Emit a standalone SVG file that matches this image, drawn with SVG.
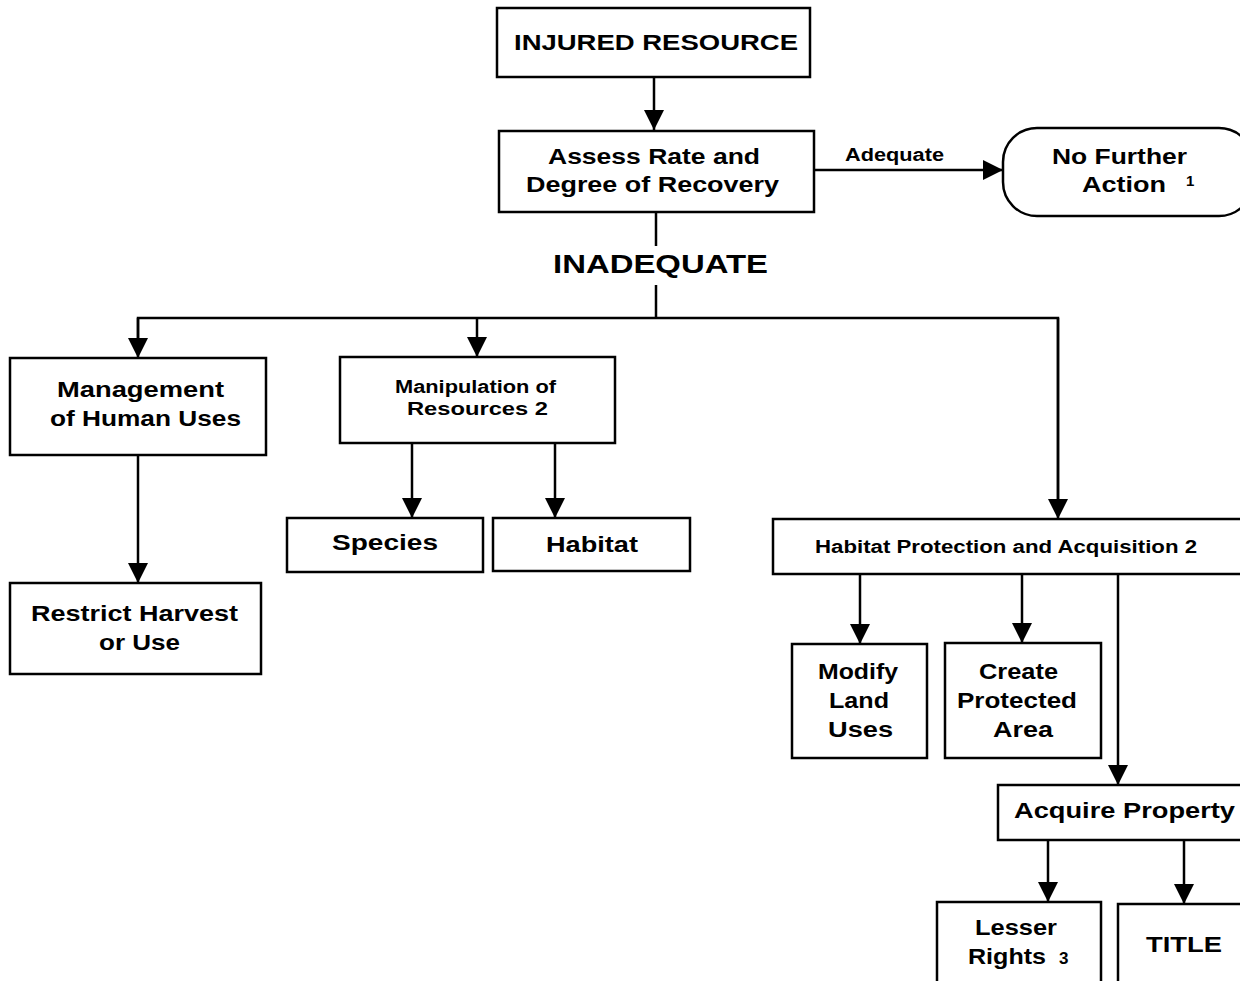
<svg xmlns="http://www.w3.org/2000/svg" width="1240" height="981" viewBox="0 0 1240 981">
<style>
.box{fill:#fff;stroke:#000;stroke-width:2.5}
.ln{fill:none;stroke:#000;stroke-width:2.5}
text{font-family:"Liberation Sans",Arial,sans-serif;font-weight:bold;fill:#000}
.t22{font-size:22px}
.t18{font-size:18px}
</style>
<defs>
<marker id="ah" markerUnits="userSpaceOnUse" markerWidth="22" markerHeight="20" refX="20" refY="10" orient="auto" viewBox="0 0 22 20">
<path d="M0,0 L20,10 L0,20 Z" fill="#000"/>
</marker>
</defs>
<rect width="1240" height="981" fill="#fff"/>
<g id="connectors">
<line class="ln" x1="654" y1="77" x2="654" y2="130" marker-end="url(#ah)"/>
<line class="ln" x1="814" y1="170" x2="1003" y2="170" marker-end="url(#ah)"/>
<line class="ln" x1="656" y1="212" x2="656" y2="246"/>
<line class="ln" x1="656" y1="285" x2="656" y2="318"/>
<polyline class="ln" points="138,340 138,318 1058,318 1058,500"/>
<line class="ln" x1="138" y1="318" x2="138" y2="358" marker-end="url(#ah)"/>
<line class="ln" x1="477" y1="318" x2="477" y2="357" marker-end="url(#ah)"/>
<line class="ln" x1="1058" y1="318" x2="1058" y2="519" marker-end="url(#ah)"/>
<line class="ln" x1="138" y1="455" x2="138" y2="583" marker-end="url(#ah)"/>
<line class="ln" x1="412" y1="443" x2="412" y2="518" marker-end="url(#ah)"/>
<line class="ln" x1="555" y1="443" x2="555" y2="518" marker-end="url(#ah)"/>
<line class="ln" x1="860" y1="574" x2="860" y2="644" marker-end="url(#ah)"/>
<line class="ln" x1="1022" y1="574" x2="1022" y2="643" marker-end="url(#ah)"/>
<line class="ln" x1="1118" y1="574" x2="1118" y2="785" marker-end="url(#ah)"/>
<line class="ln" x1="1048" y1="840" x2="1048" y2="902" marker-end="url(#ah)"/>
<line class="ln" x1="1184" y1="840" x2="1184" y2="904" marker-end="url(#ah)"/>
<text class="t18" x="845" y="161" textLength="99" lengthAdjust="spacingAndGlyphs">Adequate</text>
<text x="553" y="273" style="font-size:26px" textLength="215" lengthAdjust="spacingAndGlyphs">INADEQUATE</text>
</g>
<g id="injured">
<rect class="box" x="497" y="8" width="313" height="69"/>
<text class="t22" x="514" y="50" textLength="284" lengthAdjust="spacingAndGlyphs">INJURED  RESOURCE</text>
</g>
<g id="assess">
<rect class="box" x="499" y="131" width="315" height="81"/>
<text class="t22" x="548" y="164" textLength="212" lengthAdjust="spacingAndGlyphs">Assess Rate and</text>
<text class="t22" x="526" y="192" textLength="253" lengthAdjust="spacingAndGlyphs">Degree of Recovery</text>
</g>
<g id="nofurther">
<rect class="box" x="1003" y="128" width="250" height="88" rx="34" ry="34"/>
<text class="t22" x="1052" y="164" textLength="135" lengthAdjust="spacingAndGlyphs">No Further</text>
<text class="t22" x="1082" y="192" textLength="84" lengthAdjust="spacingAndGlyphs">Action</text>
<text x="1186" y="186" style="font-size:15px">1</text>
</g>
<g id="management">
<rect class="box" x="10" y="358" width="256" height="97"/>
<text class="t22" x="57" y="397" textLength="167" lengthAdjust="spacingAndGlyphs">Management</text>
<text class="t22" x="50" y="426" textLength="191" lengthAdjust="spacingAndGlyphs">of Human Uses</text>
</g>
<g id="manipulation">
<rect class="box" x="340" y="357" width="275" height="86"/>
<text class="t18" x="395" y="393" textLength="161" lengthAdjust="spacingAndGlyphs">Manipulation of</text>
<text class="t18" x="407" y="415" textLength="141" lengthAdjust="spacingAndGlyphs">Resources  2</text>
</g>
<g id="species">
<rect class="box" x="287" y="518" width="196" height="54"/>
<text class="t22" x="332" y="550" textLength="106" lengthAdjust="spacingAndGlyphs">Species</text>
</g>
<g id="habitat">
<rect class="box" x="493" y="518" width="197" height="53"/>
<text class="t22" x="546" y="552" textLength="92" lengthAdjust="spacingAndGlyphs">Habitat</text>
</g>
<g id="restrict">
<rect class="box" x="10" y="583" width="251" height="91"/>
<text class="t22" x="31" y="621" textLength="207" lengthAdjust="spacingAndGlyphs">Restrict  Harvest</text>
<text class="t22" x="99" y="650" textLength="81" lengthAdjust="spacingAndGlyphs">or Use</text>
</g>
<g id="habprot">
<rect class="box" x="773" y="519" width="475" height="55"/>
<text class="t18" x="815" y="553" textLength="382" lengthAdjust="spacingAndGlyphs">Habitat Protection and Acquisition 2</text>
</g>
<g id="modify">
<rect class="box" x="792" y="644" width="135" height="114"/>
<text class="t22" x="818" y="679" textLength="80" lengthAdjust="spacingAndGlyphs">Modify</text>
<text class="t22" x="829" y="708" textLength="60" lengthAdjust="spacingAndGlyphs">Land</text>
<text class="t22" x="828" y="737" textLength="65" lengthAdjust="spacingAndGlyphs">Uses</text>
</g>
<g id="create">
<rect class="box" x="945" y="643" width="156" height="115"/>
<text class="t22" x="979" y="679" textLength="79" lengthAdjust="spacingAndGlyphs">Create</text>
<text class="t22" x="957" y="708" textLength="120" lengthAdjust="spacingAndGlyphs">Protected</text>
<text class="t22" x="993" y="737" textLength="60" lengthAdjust="spacingAndGlyphs">Area</text>
</g>
<g id="acquire">
<rect class="box" x="998" y="785" width="250" height="55"/>
<text class="t22" x="1014" y="818" textLength="221" lengthAdjust="spacingAndGlyphs">Acquire  Property</text>
</g>
<g id="lesser">
<rect class="box" x="937" y="902" width="164" height="90"/>
<text class="t22" x="975" y="935" textLength="82" lengthAdjust="spacingAndGlyphs">Lesser</text>
<text class="t22" x="968" y="964" textLength="78" lengthAdjust="spacingAndGlyphs">Rights</text>
<text x="1059" y="964" style="font-size:17px">3</text>
</g>
<g id="title">
<rect class="box" x="1118" y="904" width="130" height="90"/>
<text class="t22" x="1146" y="952" textLength="76" lengthAdjust="spacingAndGlyphs">TITLE</text>
</g>
</svg>
